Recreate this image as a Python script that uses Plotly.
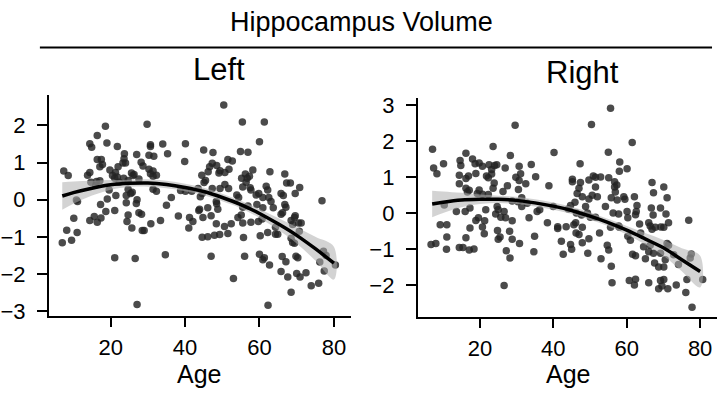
import plotly.graph_objects as go

# ---------------- data ----------------
left_age = [14.4,14.9,19.0,21.8,30.7,30.7,34.0,40.1,23.7,27.0,30.3,31.6,35.3,16.4,17.5,23.6,23.3,24.0,28.2,39.9,
            17.8,17.1,22.0,28.7,7.4,8.6,14.4,13.8,19.8,21.3,25.6,26.3,30.3,31.4,30.7,20.5,21.1,21.8,23.5,26.0,
            27.6,31.4,32.3,14.7,16.2,17.1,16.0,22.3,24.7,19.6,24.7,25.4,25.8,21.4,24.2,31.4,32.3,38.8,40.1,41.8,
            10.8,11.1,19.1,27.1,36.3,17.3,24.2,26.9,35.0,21.1,18.7,27.6,28.3,24.7,38.2,41.2,43.7,10.1,15.6,17.4,
            14.4,16.4,24.4,33.4,42.1,25.7,28.5,29.0,30.8,41.0,8.2,11.0,9.5,7.0,21.1,26.6,34.7,27.1,18.6,29.8,16.4,
            50.4,55.4,61.3,
            60.0,45.0,47.5,54.9,56.9,51.5,52.7,47.3,46.6,48.5,46.2,49.4,49.1,51.8,50.7,58.2,62.8,66.8,44.5,56.2,
            55.2,56.7,57.3,56.4,45.5,45.1,67.3,68.3,47.3,49.4,50.7,51.7,55.5,57.5,57.7,61.8,62.2,70.8,44.6,44.1,
            59.8,59.1,60.9,62.5,69.6,65.8,66.4,53.9,54.4,76.8,63.1,48.4,48.5,46.1,48.8,55.5,56.9,59.3,60.9,63.7,
            65.8,66.2,66.8,67.1,44.8,47.0,48.4,50.6,52.4,54.2,55.1,55.5,57.7,59.7,60.7,64.3,68.5,69.4,69.6,70.5,
            71.2,68.9,44.6,46.1,47.9,49.3,51.5,55.7,60.2,62.2,64.3,64.9,68.5,68.9,69.4,70.7,47.0,56.0,60.0,60.9,
            61.3,62.7,66.1,67.1,69.8,70.3,77.2,77.9,65.8,67.6,70.0,70.9,72.5,73.9,75.9,77.4,53.0,62.3,68.5,80.4,
            76.2,43.9,43.5]
left_val = [1.51,1.41,1.53,1.43,1.48,1.43,1.50,1.51,1.24,1.22,1.20,1.17,1.24,1.08,1.08,1.10,0.99,0.99,1.01,1.03,
            0.95,0.89,0.89,0.91,0.77,0.65,0.73,0.66,0.80,0.73,0.72,0.68,0.82,0.77,0.70,0.65,0.58,0.61,0.58,0.65,
            0.56,0.63,0.66,0.47,0.49,0.51,0.39,0.47,0.52,0.26,0.28,0.17,0.20,0.11,0.11,0.28,0.23,0.25,0.23,0.23,
            -0.01,-0.05,0.02,0.00,0.06,-0.13,-0.08,-0.10,-0.15,-0.29,-0.32,-0.35,-0.39,-0.41,-0.44,-0.48,-0.29,-0.50,-0.45,-0.49,
            -0.56,-0.61,-0.59,-0.56,-0.59,-0.76,-0.83,-0.83,-0.65,-0.76,-0.82,-0.88,-1.09,-1.16,-1.56,-1.58,-1.48,-2.82,1.98,2.03,1.73,
            2.55,2.09,2.09,
            1.56,1.34,1.27,1.30,1.28,1.08,1.04,0.98,0.89,0.92,0.75,0.78,0.72,0.82,0.73,0.80,0.75,0.69,0.66,0.69,
            0.58,0.58,0.63,0.47,0.52,0.46,0.45,0.45,0.30,0.30,0.41,0.30,0.34,0.32,0.26,0.36,0.26,0.33,0.17,0.08,
            0.17,0.13,0.06,0.06,0.17,0.17,0.11,0.13,0.06,-0.03,-0.05,-0.05,-0.11,-0.22,-0.26,-0.20,-0.17,-0.13,-0.22,-0.22,
            -0.39,-0.35,-0.13,-0.20,-0.48,-0.43,-0.65,-0.72,-0.65,-0.48,-0.41,-0.63,-0.61,-0.59,-0.52,-0.74,-0.56,-0.48,-0.43,-0.63,
            -0.63,-0.67,-1.01,-1.00,-0.96,-0.94,-0.91,-1.02,-0.97,-0.88,-0.93,-0.93,-1.04,-1.15,-1.17,-0.85,-1.52,-1.52,-1.47,-1.62,
            -1.56,-1.76,-1.53,-1.67,-1.52,-1.56,-1.39,-1.50,-1.93,-2.08,-1.99,-2.08,-1.97,-2.32,-2.25,-1.92,-2.12,-2.84,-2.49,-1.76,
            -1.68,-0.26,0.30]

right_age = [7.1,23.6,61.5,40.2,55.0,7.4,8.3,10.1,16.2,14.6,14.8,18.0,18.7,19.8,20.7,22.5,24.0,23.2,24.6,26.9,
             28.3,30.7,34.0,47.3,58.1,60.1,58.0,14.4,16.9,16.2,18.9,21.8,22.3,23.2,23.9,23.6,27.5,29.8,30.7,31.1,
             32.5,35.2,38.8,45.2,45.2,47.4,49.7,50.9,51.5,52.9,55.1,56.7,56.7,57.3,66.9,70.1,51.5,47.0,46.5,14.4,
             16.2,17.1,16.6,19.8,19.3,20.7,22.3,26.3,30.5,31.4,32.9,47.9,49.7,50.6,52.0,55.8,57.4,59.2,59.5,56.9,
             62.1,67.3,71.0,10.3,13.6,16.0,17.3,21.6,24.7,25.0,26.6,24.3,25.7,27.0,28.8,31.4,30.4,33.4,35.6,36.3,
             40.0,44.7,44.1,45.9,48.8,46.3,47.7,49.3,50.1,51.5,54.2,56.3,57.8,60.1,62.8,62.4,62.6,66.7,69.2,70.7,
             67.2,9.2,11.0,19.6,18.9,17.3,21.3,20.7,21.2,24.8,28.8,25.5,25.0,28.1,28.8,34.9,38.4,41.2,41.2,43.5,
             46.1,45.6,47.9,55.6,57.8,58.0,60.3,63.5,66.0,66.4,66.9,67.8,69.3,70.1,71.4,76.9,6.7,8.0,11.0,10.9,
             16.2,14.4,15.4,17.1,18.4,27.2,28.2,30.8,34.7,42.2,42.7,44.7,45.0,46.2,47.0,47.9,49.7,49.4,52.6,53.0,
             54.7,55.1,60.3,61.0,61.6,62.4,63.8,64.6,65.1,66.0,66.4,67.3,67.6,69.2,68.7,70.5,70.1,71.0,71.4,72.8,
             74.1,77.6,77.3,26.6,55.8,56.0,60.7,62.4,62.1,66.0,69.2,69.6,70.1,68.7,71.2,73.5,76.1,76.4,80.7,55.6,
             50.4,29.6,77.8]
right_val = [1.77,1.85,1.96,1.68,1.69,1.25,1.09,1.37,1.66,1.46,1.32,1.50,1.37,1.39,1.30,1.34,1.32,1.21,1.34,1.25,
             1.60,1.30,1.35,1.37,1.42,1.23,1.16,1.05,1.03,0.96,1.10,1.03,0.98,1.08,0.83,0.69,0.76,0.99,0.90,1.09,
             0.81,1.01,0.76,0.94,0.87,0.85,0.92,1.03,0.99,1.00,0.98,0.87,0.72,0.78,0.85,0.72,0.72,0.69,0.54,0.81,
             0.69,0.63,0.58,0.64,0.54,0.52,0.51,0.60,0.65,0.42,0.27,0.45,0.39,0.49,0.45,0.42,0.36,0.45,0.38,0.58,
             0.45,0.56,0.42,0.22,0.04,0.04,0.14,0.09,0.18,0.09,0.04,-0.03,-0.12,-0.13,0.33,0.18,0.31,-0.13,0.04,0.09,
             0.18,0.21,0.11,0.30,0.18,0.00,-0.06,0.00,-0.12,-0.12,0.18,0.00,-0.03,0.04,0.21,-0.05,0.04,0.14,0.14,-0.03,
             -0.06,-0.33,-0.33,-0.13,-0.21,-0.42,-0.22,-0.39,-0.58,-0.49,-0.22,-0.67,-0.73,-0.51,-0.73,-0.65,-0.27,-0.43,-0.38,-0.38,
             -0.27,-0.33,-0.40,-0.40,-0.36,-0.40,-0.13,-0.31,-0.27,-0.36,-0.45,-0.40,-0.39,-0.40,-0.27,-0.20,-0.88,-0.85,-0.67,-1.01,
             -0.69,-0.96,-0.96,-1.03,-1.00,-1.05,-1.25,-0.85,-1.08,-0.79,-1.15,-0.88,-1.01,-0.56,-0.60,-0.83,-0.72,-1.12,-0.56,-1.27,
             -0.90,-1.03,-0.65,-0.76,-1.15,-1.19,-0.56,-0.94,-1.27,-1.08,-0.90,-1.12,-1.39,-1.12,-1.50,-1.30,-1.50,-0.85,-0.90,-1.16,
             -1.43,-1.14,-1.25,-2.02,-1.48,-1.94,-1.88,-1.84,-2.00,-1.94,-1.88,-2.03,-1.85,-2.11,-2.11,-2.00,-2.21,-1.85,-1.85,2.91,
             2.46,2.44,-2.62]

# fitted curves and confidence half-widths
fit_age = [7, 10, 15, 20, 25, 30, 35, 40, 45, 50, 55, 60, 65, 70, 75, 80]
left_fit = [0.10, 0.19, 0.31, 0.40, 0.44, 0.45, 0.41, 0.33, 0.22, 0.06, -0.13, -0.37, -0.65, -0.96, -1.32, -1.71]
left_ci = [0.37, 0.30, 0.20, 0.13, 0.10, 0.10, 0.10, 0.10, 0.10, 0.10, 0.10, 0.12, 0.16, 0.22, 0.32, 0.44]
right_fit = [0.25, 0.30, 0.36, 0.38, 0.38, 0.35, 0.28, 0.19, 0.07, -0.09, -0.27, -0.48, -0.72, -0.97, -1.30, -1.63]
right_ci = [0.37, 0.30, 0.20, 0.13, 0.10, 0.10, 0.10, 0.10, 0.10, 0.10, 0.10, 0.12, 0.16, 0.22, 0.32, 0.44]

x_ticks = [20, 40, 60, 80]
left_y_ticks = [-3, -2, -1, 0, 1, 2]
right_y_ticks = [-2, -1, 0, 1, 2, 3]

# ---------------- figure ----------------
FONT = "Liberation Sans, Arial, sans-serif"
PT_COLOR = "rgba(35,35,35,0.82)"

fig = go.Figure()

def add_panel(ages, vals, fit, ci, xa, ya):
    hi = [f + c for f, c in zip(fit, ci)]
    lo = [f - c for f, c in zip(fit, ci)]
    fig.add_trace(go.Scatter(x=ages, y=vals, mode="markers",
                             marker=dict(size=7.5, color=PT_COLOR, line=dict(width=0)),
                             xaxis=xa, yaxis=ya, showlegend=False, hoverinfo="skip"))
    fig.add_trace(go.Scatter(x=fit_age + fit_age[::-1], y=hi + lo[::-1], fill="toself",
                             fillcolor="rgba(175,175,175,0.55)", line=dict(width=0, shape="spline"),
                             mode="lines", xaxis=xa, yaxis=ya, showlegend=False, hoverinfo="skip"))
    fig.add_trace(go.Scatter(x=fit_age, y=fit, mode="lines",
                             line=dict(color="black", width=3.5, shape="spline"),
                             xaxis=xa, yaxis=ya, showlegend=False, hoverinfo="skip"))

add_panel(left_age, left_val, left_fit, left_ci, "x", "y")
add_panel(right_age, right_val, right_fit, right_ci, "x2", "y2")

W, H = 720, 400

def px(p):
    return p / W

def py(p):
    return 1 - p / H

axis_common = dict(showline=True, linecolor="black", linewidth=2, ticks="outside",
                   tickwidth=2, tickcolor="black", showgrid=False, zeroline=False,
                   tickfont=dict(family=FONT, size=22, color="black"), mirror=False)

def minus(v):
    return str(v).replace("-", "\u2212")

fig.update_layout(
    width=W, height=H, margin=dict(l=0, r=0, t=0, b=0),
    paper_bgcolor="white", plot_bgcolor="white",
    xaxis=dict(domain=[px(47), px(350)], range=[3.4, 84.6], tickvals=x_ticks,
               ticklen=9, ticklabelstandoff=2, anchor="y", **axis_common),
    yaxis=dict(domain=[py(321), py(93)], range=[-3.12, 2.82], tickvals=left_y_ticks,
               ticktext=[minus(v) for v in left_y_ticks], ticklen=10, ticklabelstandoff=7,
               anchor="x", **axis_common),
    xaxis2=dict(domain=[px(417), px(717)], range=[3.1, 84.6], tickvals=x_ticks,
                ticklen=9, ticklabelstandoff=2, anchor="y2", **axis_common),
    yaxis2=dict(domain=[py(322), py(96)], range=[-2.88, 3.2], tickvals=right_y_ticks,
                ticktext=[minus(v) for v in right_y_ticks], ticklen=10, ticklabelstandoff=7,
                anchor="x2", **axis_common),
    font=dict(family=FONT, color="black"),
)

fig.add_annotation(text="Hippocampus Volume", x=px(360), y=1, xref="paper", yref="paper",
                   xanchor="center", yanchor="top", showarrow=False,
                   font=dict(family=FONT, size=27, color="black"))
ann = [
    dict(text="Left", x=218, y=67, size=31),
    dict(text="Right", x=582, y=70, size=31),
    dict(text="Age", x=198, y=381, size=25),
    dict(text="Age", x=568, y=381, size=25),
]
for a in ann:
    fig.add_annotation(text=a["text"], x=px(a["x"]), y=py(a["y"]), xref="paper", yref="paper",
                       xanchor="center", yanchor="middle", showarrow=False,
                       font=dict(family=FONT, size=a["size"], color="black"))

fig.add_shape(type="line", xref="paper", yref="paper", x0=px(38), x1=px(712),
              y0=py(44), y1=py(44), line=dict(color="black", width=2))

# remove the default page margin so the 720x400 figure fills the window exactly
fig.write_html("out.html", config={"displayModeBar": False},
               post_script="document.body.style.margin='0';")
